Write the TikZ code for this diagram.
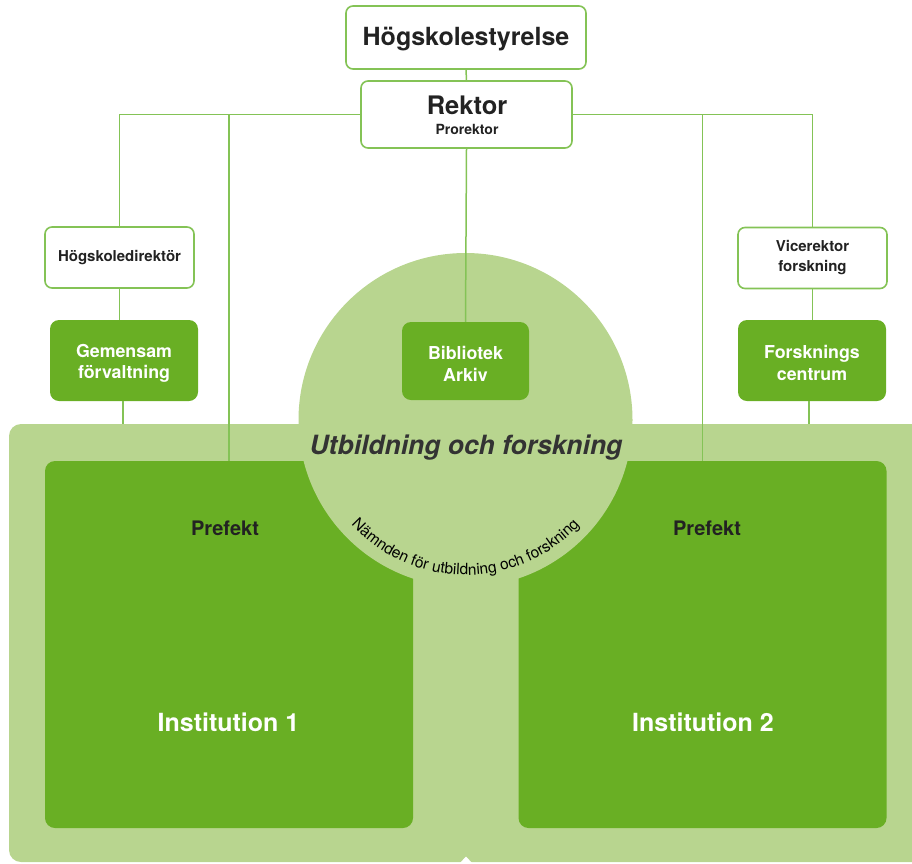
\documentclass[tikz,border=0pt]{standalone}
\usepackage{fontspec}
\setmainfont{TeX Gyre Heros}
\usetikzlibrary{decorations.text,calc}
\definecolor{dkgreen}{HTML}{69AF24}
\definecolor{ltgreen}{HTML}{B8D58F}
\definecolor{lngreen}{HTML}{84C356}
\definecolor{txt}{HTML}{222222}
\definecolor{utbtxt}{HTML}{333333}
\tikzset{
  wbox/.style={draw=lngreen, line width=1.6pt, fill=white, rounded corners=7pt, inner sep=0pt, align=center, text=txt, font=\bfseries},
  gbox/.style={fill=dkgreen, rounded corners=9pt, inner sep=0pt},
  gtext/.style={align=center, text=white, inner sep=0pt, font=\bfseries\fontsize{17.8}{21.5}\selectfont},
  inst/.style={fill=dkgreen, rounded corners=10pt, inner sep=0pt, minimum width=368pt, minimum height=367pt},
  conn/.style={draw=lngreen, line width=1.5pt},
}
\begin{document}
\begin{tikzpicture}[x=1pt,y=-1pt]
\useasboundingbox (0,0) rectangle (912,863);
\clip (0,0) rectangle (912,863);
% panel
\fill[ltgreen, rounded corners=12pt] (9,424) rectangle (940,862);
\coordinate (ptop) at (0,424);
% institutions
\node[inst] (inst1) at (229,644.5) {};
\node[inst] (inst2) at (702.5,644.5) {};
% circle
\node[circle, fill=ltgreen, minimum size=334pt, inner sep=0pt] (circ) at (465.5,420) {};
% small white wedge at bottom
\fill[white] (459,864) -- (466,856.5) -- (473,864) -- cycle;
% top boxes
\node[wbox, minimum width=240pt, minimum height=63pt] (styr) at (466,37.5) {};
\node[text=txt, font=\bfseries\fontsize{25}{28}\selectfont] (styrT) at (466,39.5) {Högskolestyrelse};
\node[wbox, minimum width=211pt, minimum height=67pt] (rektor) at (466.5,114.5) {};
\node[text=txt, font=\bfseries\fontsize{25.5}{28}\selectfont] (rektorT) at (467,105) {Rektor};
\node[text=txt, font=\bfseries\fontsize{14}{16}\selectfont] (prorT) at (467,129.5) {Prorektor};
\node[wbox, minimum width=149pt, minimum height=61pt, font=\bfseries\fontsize{15}{18}\selectfont] (hdir) at (119.5,257.5) {Högskoledirektör};
\node[wbox, minimum width=149pt, minimum height=61pt, font=\bfseries\fontsize{15}{20}\selectfont] (vice) at (812.5,258) {Vicerektor\\forskning};
\node[gbox, minimum width=148pt, minimum height=81pt] (gem) at (124,360.5) {};
\node[gbox, minimum width=148pt, minimum height=81pt] (fc) at (812,360.5) {};
\node[gbox, minimum width=127pt, minimum height=78pt] (bib) at (465.5,361) {};
\node[gtext] (gemT) at ($(gem.center)+(0,3)$) {Gemensam\\förvaltning};
\node[gtext] (fcT) at ($(fc.center)+(0,2.5)$) {Forsknings\\centrum};
\node[gtext] (bibT) at ($(bib.center)+(0,3)$) {Bibliotek\\Arkiv};
% connectors
\draw[conn] (styr.south) -- (rektor.north);
\draw[conn] (rektor.west) -| (hdir.north);
\draw[conn] (rektor.east) -| (vice.north);
\draw[conn] (rektor.west -| inst1.north) -- (inst1.north);
\draw[conn] (rektor.east -| inst2.north) -- (inst2.north);
\draw[conn] (rektor.south) -- (bib.north);
\draw[conn] (hdir.south) -- (hdir.south |- gem.north);
\draw[conn] (vice.south) -- (vice.south |- fc.north);
\draw[conn] ([xshift=-1pt]gem.south) -- ([xshift=-1pt]gem.south |- ptop);
\draw[conn] ([xshift=-3pt]fc.south) -- ([xshift=-3pt]fc.south |- ptop);
% texts
\node[text=utbtxt, font=\bfseries\itshape\fontsize{26.5}{30}\selectfont] (utb) at (466,448) {Utbildning och forskning};
\node[text=txt, font=\bfseries\fontsize{20}{24}\selectfont] (pref1) at (225,528) {Prefekt};
\node[text=txt, font=\bfseries\fontsize{20}{24}\selectfont] (pref2) at (707,528) {Prefekt};
\node[text=white, font=\bfseries\fontsize{25}{30}\selectfont] (in1) at (228.5,722) {Institution 1};
\node[text=white, font=\bfseries\fontsize{25}{30}\selectfont] (in2) at (703,722) {Institution 2};
\path[decorate, decoration={text along path, text align=center, text={|\fontsize{15.5}{18}\selectfont\color{black}|Nämnden för utbildning och forskning}}]
  ($(circ.center)+(155:155)$) arc[start angle=155, end angle=25, radius=155];
\end{tikzpicture}
\end{document}
